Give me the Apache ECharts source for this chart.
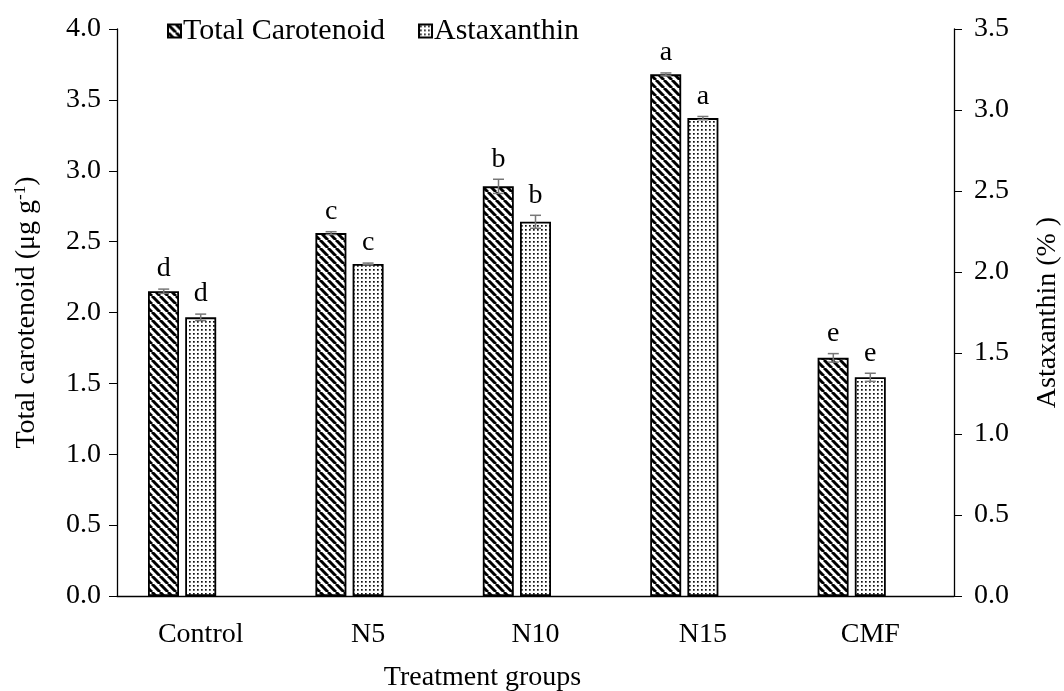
<!DOCTYPE html>
<html>
<head>
<meta charset="utf-8">
<script src="https://cdn.jsdelivr.net/npm/echarts@6/dist/echarts.min.js"></script>
<style>
html,body{margin:0;padding:0;background:#fff;}
#c{width:1064px;height:691px;}
</style>
</head>
<body>
<div id="c"></div>
<script>
const categories = ['Control', 'N5', 'N10', 'N15', 'CMF'];
const totalCarotenoid = [2.15, 2.56, 2.89, 3.68, 1.68];
const totalCarotenoidErr = [0.015, 0.01, 0.05, 0.01, 0.03];
const totalLetters = ['d', 'c', 'b', 'a', 'e'];
const astaxanthin = [1.72, 2.05, 2.31, 2.95, 1.35];
const astaxanthinErr = [0.02, 0.005, 0.04, 0.01, 0.025];
const astLetters = ['d', 'c', 'b', 'a', 'e'];
const leftTicks = {min: 0, max: 4, interval: 0.5};
const rightTicks = {min: 0, max: 3.5, interval: 0.5};

const FONT = "'Liberation Serif', 'Times New Roman', serif";
const FS = 28;

function stripePattern() {
  const s = 8;
  const cv = document.createElement('canvas');
  cv.width = s; cv.height = s;
  const ctx = cv.getContext('2d');
  ctx.fillStyle = '#fff'; ctx.fillRect(0, 0, s, s);
  ctx.strokeStyle = '#000'; ctx.lineWidth = 3;
  for (const k of [-s, 0, s]) {
    ctx.beginPath(); ctx.moveTo(k, 0); ctx.lineTo(k + s, s); ctx.stroke();
  }
  return cv;
}
function dotPattern() {
  const s = 4;
  const cv = document.createElement('canvas');
  cv.width = s; cv.height = s;
  const ctx = cv.getContext('2d');
  ctx.fillStyle = '#fff'; ctx.fillRect(0, 0, s, s);
  ctx.fillStyle = '#111';
  ctx.fillRect(1, 1, 1.7, 1.7);
  return cv;
}

const BAR_W = 31;
function errRender(offset, errs, letters) {
  return function (params, api) {
    const i = params.dataIndex;
    const v = api.value(1);
    const e = errs[i];
    const hi = api.coord([i, v + e]);
    const lo = api.coord([i, v - e]);
    const cx = hi[0] + offset;
    const cap = 5.5;
    const st = {stroke: '#777', lineWidth: 1.5};
    return {
      type: 'group',
      children: [
        {type: 'line', shape: {x1: cx, y1: hi[1], x2: cx, y2: lo[1]}, style: st},
        {type: 'line', shape: {x1: cx - cap, y1: hi[1], x2: cx + cap, y2: hi[1]}, style: st},
        {type: 'line', shape: {x1: cx - cap, y1: lo[1], x2: cx + cap, y2: lo[1]}, style: st},
        {type: 'text', style: {text: letters[i], x: cx, y: hi[1] - 6, textAlign: 'center', textVerticalAlign: 'bottom', font: FS + 'px ' + FONT, fill: '#000'}}
      ]
    };
  };
}

const chart = echarts.init(document.getElementById('c'));
chart.setOption({
  animation: false,
  textStyle: {fontFamily: FONT},
  grid: {left: 117, right: 110, top: 29, bottom: 95, containLabel: false, outerBoundsMode: 'none'},
  legend: {
    data: ['Total Carotenoid', 'Astaxanthin'],
    left: 162, top: 11, icon: 'rect', itemWidth: 13, itemHeight: 13, itemGap: 33,
    textStyle: {fontFamily: FONT, fontSize: 30, color: '#000', padding: [0, 0, 0, -3]},
    selectedMode: false
  },
  xAxis: {
    type: 'category', data: categories,
    axisLine: {lineStyle: {color: '#000', width: 1.3}},
    axisTick: {show: false},
    axisLabel: {color: '#000', fontSize: FS, fontFamily: FONT, margin: 25},
    name: 'Treatment groups', nameLocation: 'middle', nameGap: 68,
    nameTextStyle: {color: '#000', fontSize: FS, fontFamily: FONT, padding: [0, 106, 0, 0]}
  },
  yAxis: [
    {
      type: 'value', min: leftTicks.min, max: leftTicks.max, interval: leftTicks.interval,
      axisLine: {show: true, lineStyle: {color: '#000', width: 1.3}},
      axisTick: {show: true, length: 8, lineStyle: {color: '#000'}},
      splitLine: {show: false},
      axisLabel: {color: '#000', fontSize: FS, fontFamily: FONT, margin: 16, formatter: v => v.toFixed(1)},
      name: '{n|Total carotenoid (μg g}{s|-1}{n|)}', nameLocation: 'middle', nameGap: 76, nameRotate: 90,
      nameTextStyle: {rich: {n: {fontSize: FS, fontFamily: FONT, color: '#000'}, s: {fontSize: 17, fontFamily: FONT, color: '#000', verticalAlign: 'bottom', padding: [0, 0, 12, 0]}}}
    },
    {
      type: 'value', min: rightTicks.min, max: rightTicks.max, interval: rightTicks.interval,
      position: 'right',
      axisLine: {show: true, lineStyle: {color: '#000', width: 1.3}},
      axisTick: {show: true, length: 8, lineStyle: {color: '#000'}},
      splitLine: {show: false},
      axisLabel: {color: '#000', fontSize: FS, fontFamily: FONT, margin: 20, formatter: v => v.toFixed(1)},
      name: 'Astaxanthin (% )', nameLocation: 'middle', nameGap: 80, nameRotate: 90,
      nameTextStyle: {color: '#000', fontSize: FS, fontFamily: FONT}
    }
  ],
  series: [
    {
      name: 'Total Carotenoid', type: 'bar', yAxisIndex: 0, data: totalCarotenoid,
      barWidth: BAR_W, barGap: '20%',
      itemStyle: {color: {image: stripePattern(), repeat: 'repeat'}, borderColor: '#000', borderWidth: 1.8}
    },
    {
      name: 'Astaxanthin', type: 'bar', yAxisIndex: 1, data: astaxanthin,
      barWidth: BAR_W, barGap: '20%',
      itemStyle: {color: {image: dotPattern(), repeat: 'repeat'}, borderColor: '#000', borderWidth: 1.8}
    },
    {
      name: 'spacer', type: 'bar', yAxisIndex: 0, data: categories.map(() => 0),
      barWidth: BAR_W, barGap: '20%', silent: true,
      itemStyle: {color: 'rgba(0,0,0,0)'}
    },
    {
      name: 'tcErr', type: 'custom', yAxisIndex: 0, silent: true, z: 5,
      data: totalCarotenoid.map((v, i) => [i, v]),
      renderItem: errRender(-37, totalCarotenoidErr, totalLetters)
    },
    {
      name: 'astErr', type: 'custom', yAxisIndex: 1, silent: true, z: 5,
      data: astaxanthin.map((v, i) => [i, v]),
      renderItem: errRender(0, astaxanthinErr, astLetters)
    }
  ]
});
</script>
</body>
</html>
